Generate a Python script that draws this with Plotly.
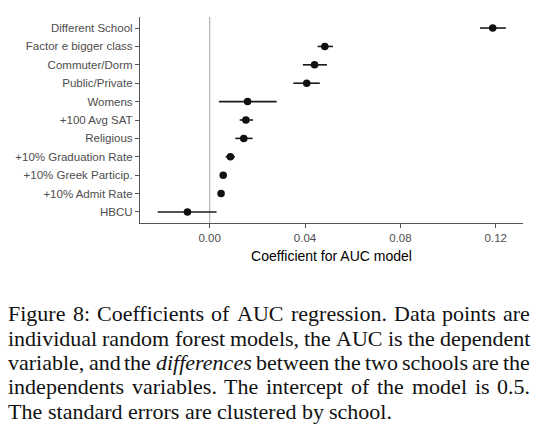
import plotly.graph_objects as go

terms = ["HBCU", "+10% Admit Rate", "+10% Greek Particip.", "+10% Graduation Rate",
         "Religious", "+100 Avg SAT", "Womens", "Public/Private", "Commuter/Dorm",
         "Factor e bigger class", "Different School"]
estimate = [-0.0093, 0.0048, 0.0057, 0.0087, 0.0143, 0.0152, 0.0159, 0.0407, 0.0440, 0.0483, 0.1187]
lower = [-0.0218, 0.0042, 0.0051, 0.0067, 0.0108, 0.0126, 0.0039, 0.0351, 0.0391, 0.0453, 0.1134]
upper = [0.0029, 0.0054, 0.0063, 0.0106, 0.0180, 0.0182, 0.0281, 0.0462, 0.0492, 0.0517, 0.1242]
x_ticks = [0.00, 0.04, 0.08, 0.12]
x_tick_labels = ["0.00", "0.04", "0.08", "0.12"]
caption_lines = [
    "Figure 8: Coefficients of AUC regression. Data points are",
    "individual random forest models, the AUC is the dependent",
    "variable, and the *differences* between the two schools are the",
    "independents variables. The intercept of the model is 0.5.",
    "The standard errors are clustered by school.",
]

W, H = 546, 431
L, R, T, B = 140, 23, 17, 208
plot_w = W - L - R
plot_h = H - T - B

fig = go.Figure()
fig.add_trace(go.Scatter(
    x=estimate, y=terms, mode="markers",
    marker=dict(size=7.5, color="#111111"),
    error_x=dict(type="data", symmetric=False,
                 array=[u - e for u, e in zip(upper, estimate)],
                 arrayminus=[e - l for e, l in zip(estimate, lower)],
                 width=0, thickness=1.6, color="#1a1a1a"),
    showlegend=False, hoverinfo="skip",
))

fig.add_shape(type="line", xref="x", yref="paper", x0=0, x1=0, y0=0, y1=1,
              line=dict(color="#b0b0b0", width=1.2), layer="below")

fig.update_layout(
    width=W, height=H,
    margin=dict(l=L, r=R, t=T, b=B, pad=0),
    paper_bgcolor="white", plot_bgcolor="white",
    font=dict(family="Liberation Sans, Arial, sans-serif", color="#4d4d4d", size=11.5),
    xaxis=dict(range=[-0.0292, 0.1314], tickvals=x_ticks, ticktext=x_tick_labels,
               showgrid=False, zeroline=False, showline=True, linecolor="#555555",
               linewidth=1.2, ticks="outside", ticklen=4, tickcolor="#555555",
               tickfont=dict(size=11.5, color="#4d4d4d"),
               title=dict(text="Coefficient for AUC model", standoff=8,
                          font=dict(size=14, color="black"))),
    yaxis=dict(type="category", categoryorder="array", categoryarray=terms,
               range=[-0.6, 10.6], showgrid=False, zeroline=False, showline=True,
               linecolor="#555555", linewidth=1.2, ticks="outside", ticklen=4,
               tickcolor="#555555", tickfont=dict(size=11.5, color="#4d4d4d")),
)

# --- justified caption (Times metrics, per 1000 em) ---
REG = dict(zip("abcdefghijklmnopqrstuvwxyz",
               [444, 500, 444, 500, 444, 333, 500, 500, 278, 278, 500, 278, 778,
                500, 500, 500, 500, 333, 389, 278, 500, 500, 722, 500, 500, 444]))
REG.update(dict(zip("ABCDEFGHIJKLMNOPQRSTUVWXYZ",
                    [722, 667, 667, 722, 611, 556, 722, 722, 333, 389, 722, 611, 889,
                     722, 722, 556, 722, 667, 556, 611, 722, 722, 944, 722, 722, 611])))
REG.update({d: 500 for d in "0123456789"})
REG.update({".": 250, ",": 250, ":": 278, " ": 250})
ITA = dict(zip("abcdefghijklmnopqrstuvwxyz",
               [500, 500, 444, 500, 444, 278, 500, 500, 278, 278, 444, 278, 722,
                500, 500, 500, 500, 389, 389, 278, 500, 444, 667, 444, 444, 389]))

FS = 22
X_LEFT, X_RIGHT = 7, 529
BASE0, GAP = 320.3, 24.4
SERIF = "Liberation Serif, Times New Roman, serif"


def word_width(w, italic):
    table = ITA if italic else REG
    return sum(table.get(c, 500) for c in w) * FS / 1000.0


for li, line in enumerate(caption_lines):
    words = line.split(" ")
    items = []
    for w in words:
        italic = w.startswith("*") and w.endswith("*")
        txt = w.strip("*")
        items.append((txt, italic, word_width(txt, italic)))
    last = li == len(caption_lines) - 1
    total = sum(it[2] for it in items)
    if last or len(items) < 2:
        gap = REG[" "] * FS / 1000.0
    else:
        gap = (X_RIGHT - X_LEFT - total) / (len(items) - 1)
    x = X_LEFT
    ycenter = BASE0 + li * GAP - 0.3 * FS
    for txt, italic, ww in items:
        fig.add_annotation(
            xref="paper", yref="paper",
            x=(x - L) / plot_w, y=(H - B - ycenter) / plot_h,
            xanchor="left", yanchor="middle", showarrow=False, borderpad=0,
            text=f"<i>{txt}</i>" if italic else txt,
            font=dict(family=SERIF, size=FS, color="#111111"),
        )
        x += ww + gap

fig.write_html("out.html", config={"displayModeBar": False},
               post_script="document.body.style.margin='0';")
